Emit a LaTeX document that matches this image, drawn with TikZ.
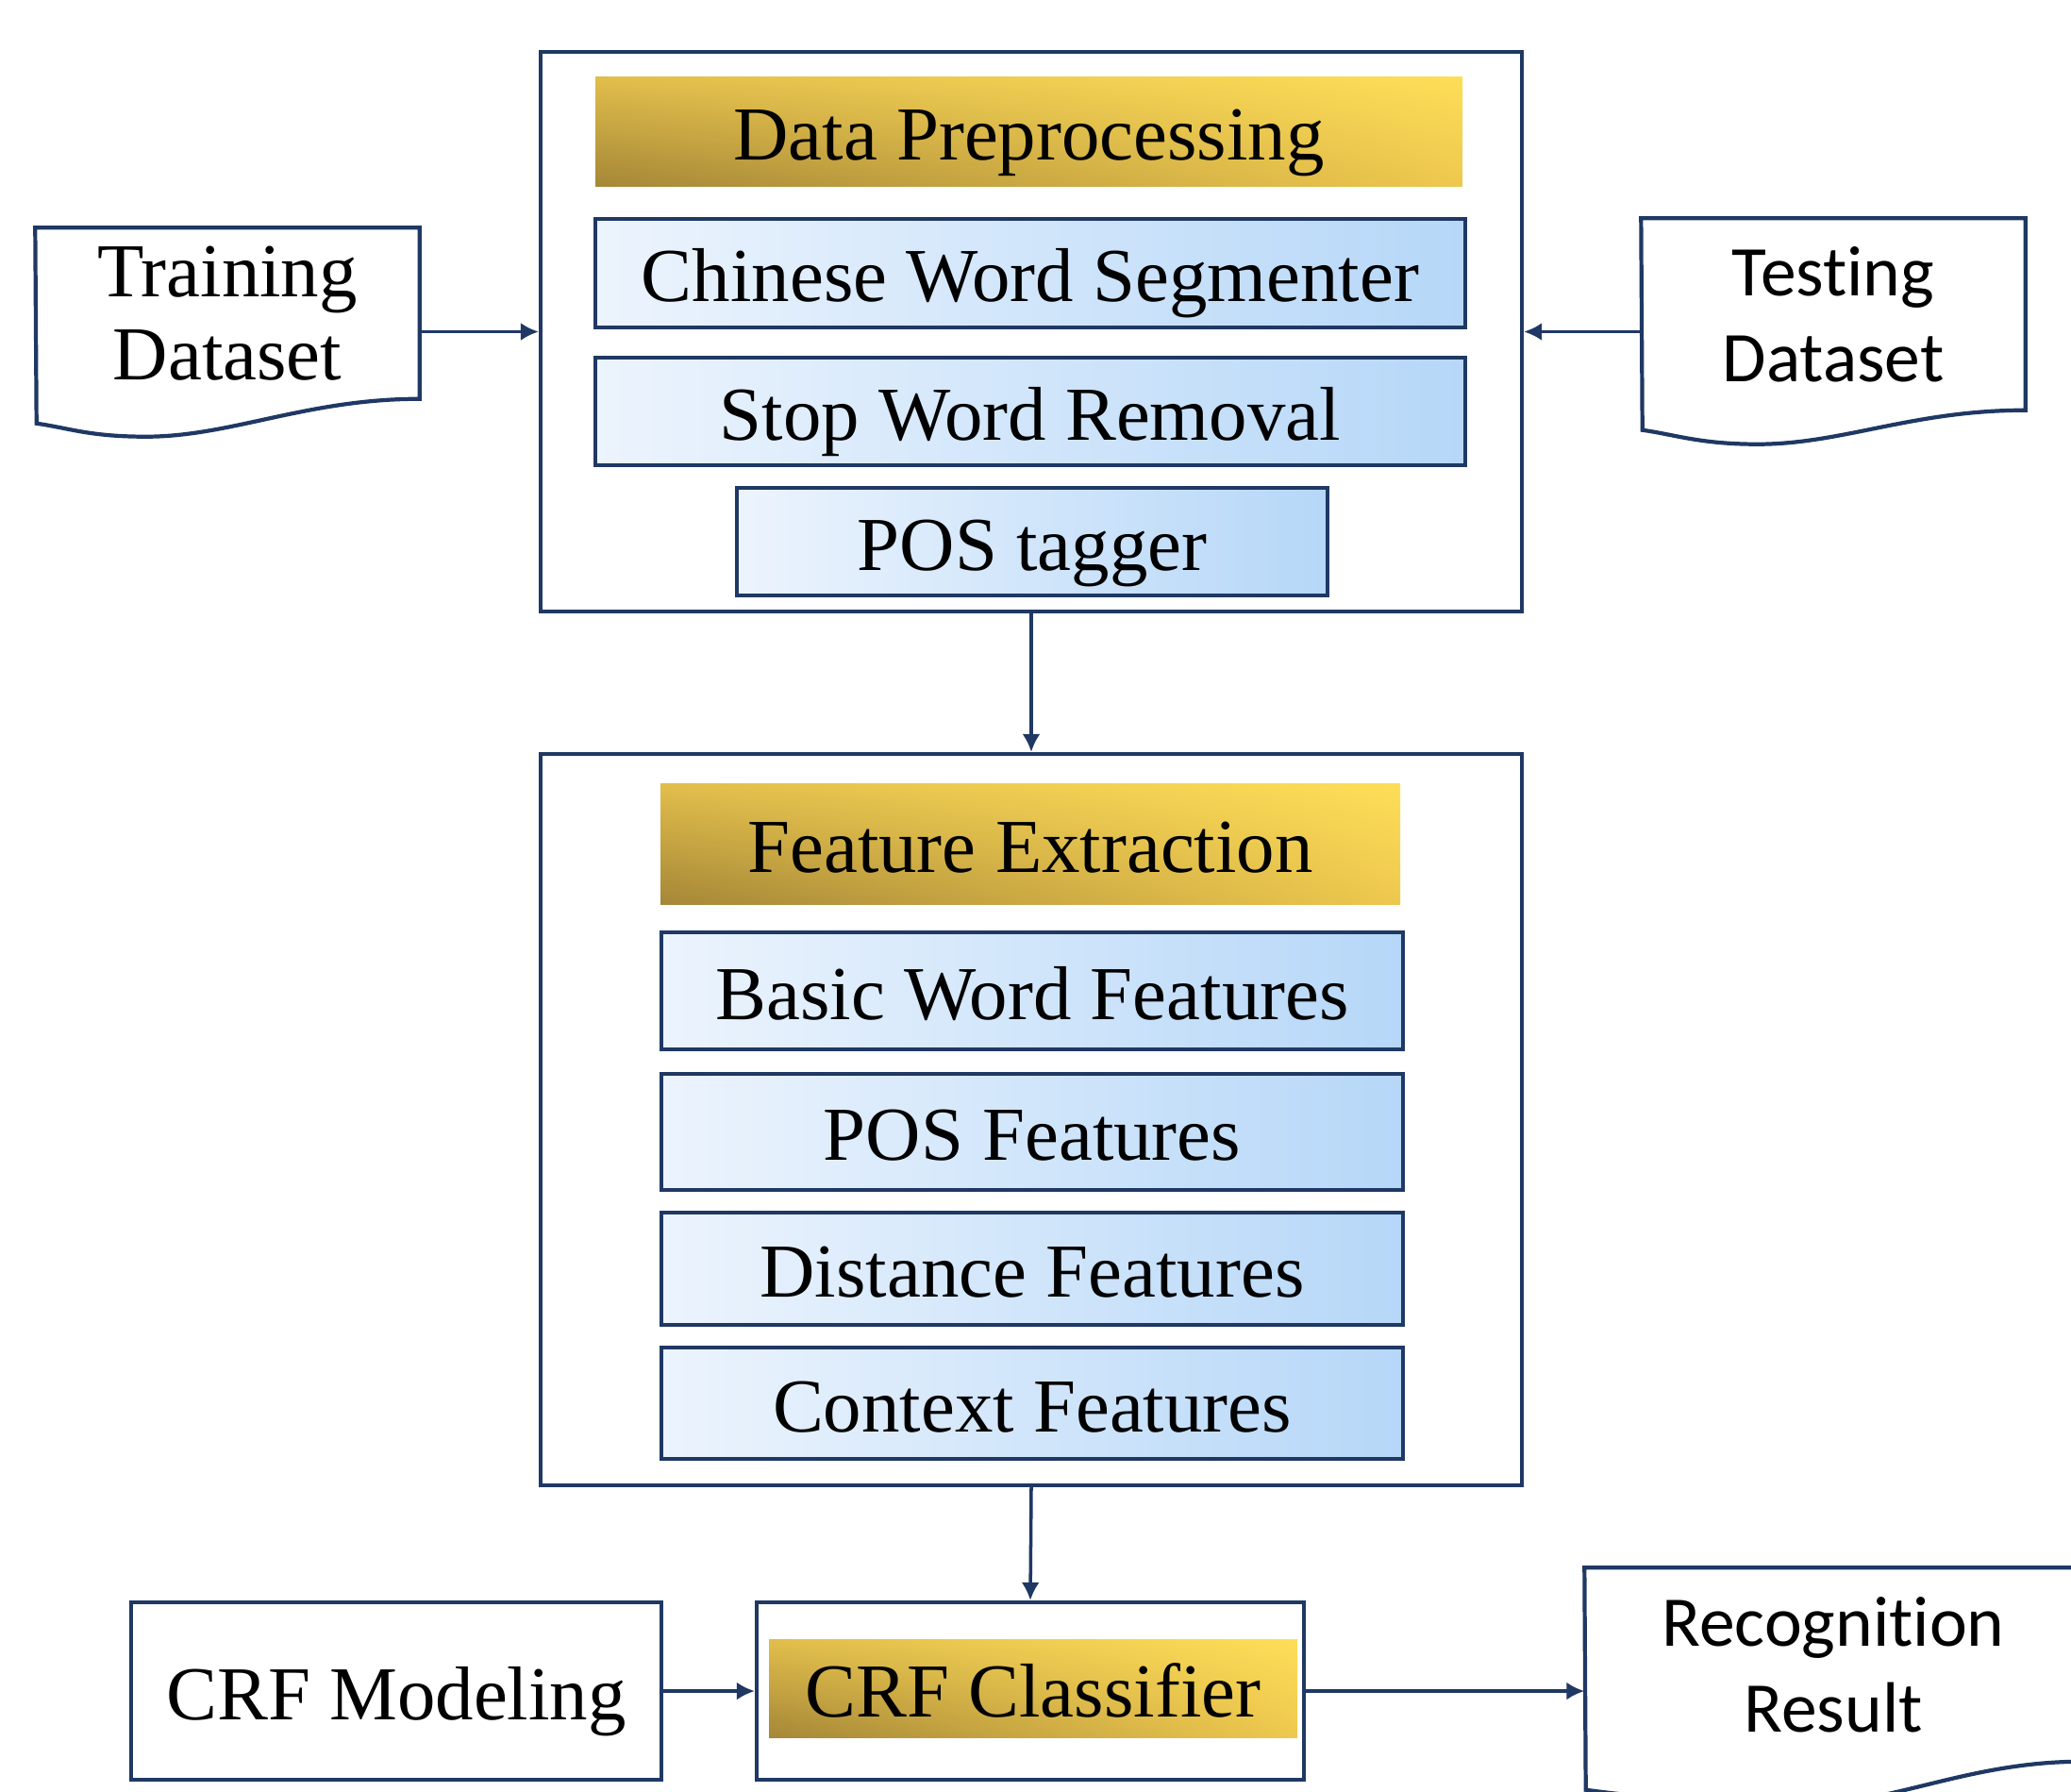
\documentclass[tikz,border=0pt]{standalone}
\usepackage{fontspec}
\setmainfont[Ligatures=NoCommon]{Liberation Serif}
\newfontfamily\calfont[Ligatures=NoCommon]{Carlito}
\usetikzlibrary{arrows.meta,shadings}
\definecolor{navy}{RGB}{31,56,100}
\definecolor{blueL}{RGB}{236,244,253}
\definecolor{blueR}{RGB}{182,215,248}
\definecolor{goldUL}{RGB}{226,190,76}
\definecolor{goldUR}{RGB}{254,222,88}
\definecolor{goldLL}{RGB}{165,135,55}
\definecolor{goldLR}{RGB}{238,200,78}
\begin{document}
\begin{tikzpicture}
    [
    box/.style={draw=navy,line width=1.2pt,inner sep=0pt},
    label text/.style={font=\fontsize{23}{25}\selectfont,text height=0.6cm,text depth=0pt},
    task/.style={box,label text,left color=blueL,right color=blueR},
    heading/.style={inner sep=0pt,label text,upper left=goldUL,upper right=goldUR,lower left=goldLL,lower right=goldLR},
    doc/.style={draw=navy,line width=1.2pt},
    link/.style={-{Latex[length=1.9mm,width=1.9mm]},draw=navy,line width=1pt}
    ]
    \useasboundingbox (0,0) rectangle (21.95,-18.98);
    \clip (0,0) rectangle (21.95,-18.98);
    % preprocessing
    \node (prep) at (10.93,-3.515) [box,minimum width=10.4cm,minimum height=5.93cm] {};
    \node (dp) at (10.905,-1.39) [heading,minimum width=9.19cm,minimum height=1.16cm] {Data Preprocessing};
    \node (cws) at (10.92,-2.895) [task,minimum width=9.22cm,minimum height=1.15cm] {Chinese Word Segmenter};
    \node (swr) at (10.92,-4.36) [task,minimum width=9.22cm,minimum height=1.14cm] {Stop Word Removal};
    \node (tag) at (10.94,-5.74) [task,minimum width=6.26cm,minimum height=1.14cm] {POS tagger};
    % datasets
    \node (train) at (2.41,-3.32) [minimum width=4.06cm,minimum height=1.8cm,align=center,font=\fontsize{23}{25}\selectfont] {Training\\Dataset};
    \draw [doc] (train.north west) -- (train.north east) -- (train.south east) .. controls +(-1.2,0) and +(0.9,0) .. ++(-2.9,-0.40) .. controls +(-0.6,0) and +(0.35,-0.05) .. ++(-1.16,0.14) -- cycle;
    \node (test) at (19.43,-3.33) [minimum width=4.06cm,minimum height=2.02cm,align=center,font=\calfont\fontsize{21.5}{26}\selectfont] {Testing\\Dataset};
    \draw [doc] (test.north west) -- (test.north east) -- (test.south east) .. controls +(-1.2,0) and +(0.9,0) .. ++(-2.84,-0.36) .. controls +(-0.6,0) and +(0.35,-0.05) .. ++(-1.22,0.15) -- cycle;
    \draw [link] (train.east |- prep.west) -- (prep.west);
    \draw [link] (test.west |- prep.east) -- (prep.east);
    % features
    \node (feat) at (10.93,-11.865) [box,minimum width=10.4cm,minimum height=7.75cm] {};
    \node (fe) at (10.92,-8.94) [heading,minimum width=7.84cm,minimum height=1.28cm] {Feature Extraction};
    \node (bwf) at (10.94,-10.50) [task,minimum width=7.86cm,minimum height=1.24cm] {Basic Word Features};
    \node (posf) at (10.94,-11.995) [task,minimum width=7.86cm,minimum height=1.23cm] {POS Features};
    \node (dist) at (10.94,-13.445) [task,minimum width=7.86cm,minimum height=1.19cm] {Distance Features};
    \node (ctx) at (10.94,-14.87) [task,minimum width=7.86cm,minimum height=1.18cm] {Context Features};
    \draw [link] (prep.south) -- (feat.north);
    % classifier
    \node (model) at (4.20,-17.92) [box,label text,minimum width=5.62cm,minimum height=1.88cm] {CRF Modeling};
    \node (clsbox) at (10.92,-17.92) [box,minimum width=5.80cm,minimum height=1.88cm] {};
    \node (cls) at (10.95,-17.89) [heading,minimum width=5.60cm,minimum height=1.04cm] {CRF Classifier};
    \node (result) at (19.43,-17.64) [minimum width=5.26cm,minimum height=2.04cm,align=center,font=\calfont\fontsize{21.5}{26}\selectfont] {Recognition\\Result};
    \draw [doc] (result.north west) -- (result.north east) -- (result.south east) .. controls +(-1.2,0) and +(0.9,0) .. ++(-2.9,-0.45) .. controls +(-1.0,0) and +(0.6,-0.08) .. ++(-2.36,0.15) -- cycle;
    \draw [link] (feat.south) -- (clsbox.north);
    \draw [link] (model.east) -- (clsbox.west);
    \draw [link] (clsbox.east) -- (clsbox.east -| result.west);
\end{tikzpicture}
\end{document}
